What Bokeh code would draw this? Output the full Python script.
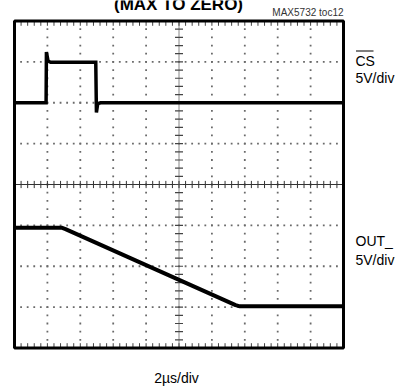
import numpy as np
from bokeh.plotting import figure
from bokeh.models import Label
from bokeh.embed import file_html
from bokeh.resources import INLINE

# ---- data (units: scope divisions; x 0..10, y -4..4) ----
cs_x = [0.0, 0.96, 0.97, 1.02, 1.10, 2.47, 2.49, 2.53, 2.62, 10.0]
cs_y = [2.0, 2.0, 3.24, 3.02, 2.99, 2.99, 1.76, 1.98, 2.0, 2.0]
out_x = [0.0, 1.45, 1.55, 6.72, 6.85, 10.0]
out_y = [-1.06, -1.06, -1.09, -2.95, -2.98, -2.98]

title_text = "(MAX TO ZERO)"
toc_text = "MAX5732 toc12"
ch1_name = "CS"
ch1_scale = "5V/div"
ch2_name = "OUT_"
ch2_scale = "5V/div"
time_scale = "2\u00b5s/div"

FONT = "'Liberation Sans', Arial, sans-serif"

DX = 32.9     # px per horizontal division
DY = 40.875   # px per vertical division
X0, YC = 14.0, 184.0  # pixel position of x=0 and y=0
W, H = 409, 389

def dx(px):
    return (px - X0) / DX

def dy(py):
    return (YC - py) / DY

p = figure(width=W, height=H,
           x_range=(dx(0), dx(W)), y_range=(dy(H), dy(0)),
           x_axis_type=None, y_axis_type=None, toolbar_location=None,
           output_backend="svg", min_border=0)
p.background_fill_color = "white"
p.border_fill_color = "white"
p.outline_line_color = None
p.grid.visible = False

# dotted graticule (dots every 1/5 division)
vx = np.array([1, 2, 3, 4, 6, 7, 8, 9], dtype=float)
hy = np.array([-3, -2, -1, 1, 2, 3], dtype=float)
sub_y = np.arange(-3.8, 4, 0.2)
sub_x = np.arange(0.2, 10, 0.2)
gx1, gy1 = np.meshgrid(vx, sub_y)
gx2, gy2 = np.meshgrid(sub_x, hy)
p.scatter(np.concatenate([gx1.ravel(), gx2.ravel()]),
          np.concatenate([gy1.ravel(), gy2.ravel()]),
          marker="square", size=1.8, fill_color="#6a6a6a", line_color=None)

# centre cross-hair with minor ticks
p.line([0, 10], [0, 0], line_color="#333333", line_width=1)
p.line([5, 5], [-4, 4], line_color="#888888", line_width=1)
tkx = 4.0 / DX
tky = 4.0 / DY
p.segment(x0=sub_x, y0=-tky * 0.9, x1=sub_x, y1=tky * 0.9, line_color="#333333", line_width=1)
p.segment(x0=5 - tkx, y0=sub_y, x1=5 + tkx, y1=sub_y, line_color="#444444", line_width=1.2)
# edge ticks (top / bottom)
p.segment(x0=sub_x, y0=4, x1=sub_x, y1=4 - tky * 1.2, line_color="#444444", line_width=1)
p.segment(x0=sub_x, y0=-4, x1=sub_x, y1=-4 + tky * 1.2, line_color="#444444", line_width=1)

# traces
p.line(cs_x, cs_y, line_color="black", line_width=3.5, line_join="miter")
p.line(out_x, out_y, line_color="black", line_width=4)

# screen border
p.quad(left=0, right=10, bottom=-4, top=4, fill_color=None,
       line_color="black", line_width=3)

def lab(px, py, t, size, align="left", style="normal", color="black"):
    corr = 0.42 * size
    p.add_layout(Label(x=dx(px), y=dy(py - corr), text=t,
                       text_font=FONT, text_font_size=f"{size}px",
                       text_align=align, text_baseline="alphabetic",
                       text_font_style=style, text_color=color))

lab(178, 11, title_text, 17, align="center", style="bold")
lab(343, 16, toc_text, 10, align="right", color="#333333")
lab(355, 66, ch1_name, 14)
lab(355, 83, ch1_scale, 14)
lab(355, 246, ch2_name, 14)
lab(355, 265, ch2_scale, 14)
lab(176, 383, time_scale, 14, align="center")
# overbar on CS
p.line([dx(355.5), dx(373)], [dy(50.5), dy(50.5)], line_color="black", line_width=1.2)

open("out.html", "w").write(file_html(p, INLINE))
